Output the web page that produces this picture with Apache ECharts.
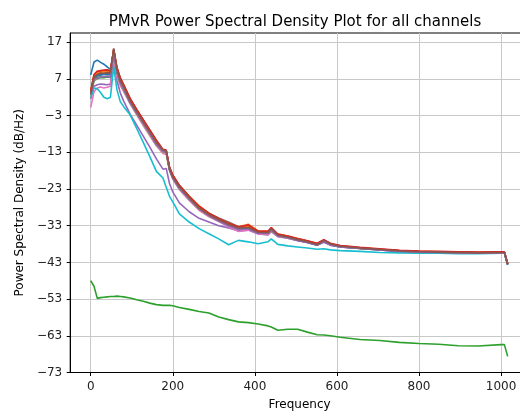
<!DOCTYPE html>
<html>
<head>
<meta charset="utf-8">
<script src="https://cdn.jsdelivr.net/npm/echarts@6/dist/echarts.min.js"></script>
<style>
  html, body { margin: 0; padding: 0; background: #fff; overflow: hidden; }
  #wrap { width: 520px; height: 416px; overflow: hidden; }
  #chart { width: 529px; height: 416px; }
</style>
</head>
<body>
<div id="wrap"><div id="chart"></div></div>
<script>
// frequency bins (Hz)
var freqs = [0, 8, 16, 24, 32, 40, 48, 56, 64, 72,
  80, 96, 112, 128, 144, 160, 176, 184, 192, 200,
  216, 240, 264, 288, 312, 336, 360, 384, 408, 432,
  440, 456, 480, 504, 528, 552, 568, 584, 608, 656,
  704, 752, 800, 848, 896, 944, 1000, 1008, 1016];

var xTicks = [0, 200, 400, 600, 800, 1000];
var yTicks = [17, 7, -3, -13, -23, -33, -43, -53, -63, -73];

// PSD per channel (dB/Hz)
var ch00 = [8.1, 11.6, 12.1, 11.5, 11.0, 10.3, 9.6, 14.5, 9.0, 6.0,
  4.2, 0.5, -2.4, -5.2, -8.0, -10.8, -12.8, -13.0, -17.8, -20.0,
  -22.8, -25.8, -28.6, -30.4, -31.8, -33.0, -34.0, -33.8, -35.0, -35.2,
  -34.2, -35.8, -36.3, -37.0, -37.6, -38.3, -37.3, -38.2, -38.8, -39.2,
  -39.6, -40.0, -40.2, -40.3, -40.4, -40.5, -40.4, -40.4, -43.6];
var ch01 = [3.8, 7.8, 8.8, 9.0, 9.2, 9.4, 9.1, 14.6, 9.8, 7.2,
  5.2, 1.4, -1.5, -4.3, -7.1, -10.0, -12.6, -12.9, -17.2, -19.3,
  -22.0, -25.0, -27.6, -29.6, -31.0, -32.3, -33.3, -32.6, -34.4, -34.5,
  -34.0, -35.3, -35.8, -36.5, -37.2, -38.0, -37.3, -38.0, -38.5, -39.0,
  -39.4, -39.8, -40.0, -40.1, -40.2, -40.3, -40.2, -40.2, -43.3];
var ch02 = [-48.0, -49.5, -52.8, -52.6, -52.5, -52.4, -52.3, -52.3, -52.2, -52.3,
  -52.4, -52.7, -53.2, -53.6, -54.1, -54.5, -54.7, -54.7, -54.7, -54.8,
  -55.3, -55.8, -56.4, -56.8, -57.9, -58.6, -59.2, -59.4, -59.8, -60.3,
  -60.6, -61.5, -61.2, -61.2, -62.0, -62.7, -62.8, -63.0, -63.4, -64.0,
  -64.3, -64.8, -65.1, -65.3, -65.7, -65.8, -65.4, -65.4, -68.6];
var ch03 = [3.5, 8.0, 9.0, 9.3, 9.2, 9.3, 9.2, 14.8, 10.0, 7.2,
  5.4, 1.6, -1.4, -4.2, -7.0, -9.8, -12.3, -12.5, -17.1, -19.3,
  -22.1, -25.1, -27.8, -29.7, -31.1, -32.4, -33.4, -32.8, -34.5, -34.6,
  -33.6, -35.4, -35.9, -36.6, -37.2, -37.9, -36.9, -37.9, -38.5, -39.0,
  -39.4, -39.8, -40.0, -40.1, -40.2, -40.3, -40.2, -40.2, -43.3];
var ch04 = [1.5, 5.0, 5.4, 5.6, 5.5, 5.4, 5.6, 12.0, 6.5, 3.2,
  1.0, -2.6, -5.6, -8.6, -11.6, -14.8, -17.6, -17.4, -21.5, -23.8,
  -26.8, -29.2, -31.0, -32.0, -33.0, -33.6, -34.4, -34.2, -35.2, -35.5,
  -34.6, -36.0, -36.4, -37.0, -37.6, -38.3, -37.5, -38.3, -38.8, -39.2,
  -39.6, -40.0, -40.2, -40.3, -40.4, -40.5, -40.4, -40.4, -43.6];
var ch05 = [2.9, 7.3, 8.0, 8.3, 8.3, 8.5, 8.4, 15.1, 9.4, 6.4,
  4.7, 0.9, -2.0, -4.8, -7.6, -10.4, -12.5, -12.7, -17.5, -19.7,
  -22.5, -25.4, -28.1, -30.0, -31.4, -32.7, -33.7, -33.5, -34.8, -34.8,
  -33.9, -35.6, -36.1, -36.8, -37.4, -38.1, -37.1, -38.0, -38.6, -39.1,
  -39.5, -39.9, -40.1, -40.2, -40.3, -40.4, -40.3, -40.3, -43.5];
var ch06 = [-0.8, 3.5, 4.5, 4.8, 4.5, 4.7, 5.0, 12.5, 7.6, 5.2,
  3.6, 0.2, -2.8, -5.7, -8.5, -11.3, -13.3, -13.6, -18.0, -20.3,
  -23.2, -26.1, -28.8, -30.6, -31.9, -33.3, -34.6, -34.2, -35.3, -35.4,
  -34.5, -35.9, -36.4, -37.0, -37.6, -38.2, -37.4, -38.2, -38.7, -39.1,
  -39.5, -39.9, -40.1, -40.2, -40.3, -40.4, -40.3, -40.3, -43.5];
var ch07 = [2.5, 6.5, 7.0, 7.5, 7.6, 7.8, 7.5, 15.0, 9.2, 6.3,
  4.5, 0.8, -2.1, -4.9, -7.7, -10.6, -12.6, -12.8, -17.6, -19.8,
  -22.5, -25.4, -28.0, -29.6, -30.9, -32.0, -33.3, -33.6, -34.6, -34.8,
  -33.9, -35.6, -36.1, -36.8, -37.4, -38.1, -37.2, -38.1, -38.6, -39.1,
  -39.5, -39.9, -40.1, -40.2, -40.3, -40.4, -40.3, -40.3, -43.5];
var ch08 = [2.0, 6.6, 7.3, 7.6, 7.4, 7.6, 7.8, 14.0, 8.6, 5.8,
  4.0, 0.4, -2.5, -5.3, -8.2, -11.0, -12.9, -13.1, -17.7, -20.0,
  -22.9, -25.7, -28.5, -30.3, -31.6, -32.9, -33.8, -33.7, -35.0, -35.1,
  -34.3, -35.8, -36.3, -36.9, -37.5, -38.2, -37.3, -38.2, -38.7, -39.1,
  -39.5, -39.9, -40.1, -40.2, -40.3, -40.4, -40.3, -40.3, -43.5];
var ch09 = [2.0, 4.5, 4.3, 3.3, 2.0, 1.6, 2.0, 10.3, 4.0, 0.8,
  -0.5, -2.8, -6.5, -10.3, -14.2, -18.2, -20.0, -22.5, -25.0, -26.5,
  -29.8, -32.0, -33.8, -35.2, -36.6, -38.2, -37.0, -37.4, -37.9, -37.4,
  -36.6, -38.1, -38.5, -38.8, -39.1, -39.4, -39.3, -39.6, -39.8, -40.0,
  -40.3, -40.4, -40.5, -40.5, -40.6, -40.6, -40.5, -40.5, -43.7];
var ch10 = [3.0, 7.0, 7.8, 8.0, 8.2, 8.3, 8.1, 14.2, 9.0, 6.2,
  4.4, 0.7, -2.2, -5.0, -7.9, -10.7, -12.7, -12.9, -17.6, -19.9,
  -22.7, -25.6, -28.3, -30.1, -31.5, -32.8, -33.8, -33.7, -34.9, -34.9,
  -34.1, -35.7, -36.2, -36.9, -37.5, -38.2, -37.3, -38.2, -38.7, -39.1,
  -39.5, -39.9, -40.1, -40.2, -40.3, -40.4, -40.3, -40.3, -43.5];
var ch11 = [3.2, 7.6, 8.5, 8.8, 8.9, 9.0, 8.8, 14.9, 9.7, 7.0,
  5.0, 1.2, -1.7, -4.5, -7.3, -10.2, -12.5, -12.7, -17.3, -19.5,
  -22.3, -25.2, -27.9, -29.8, -31.2, -32.5, -33.5, -33.0, -34.6, -34.7,
  -33.9, -35.5, -36.0, -36.7, -37.3, -38.1, -37.1, -38.0, -38.6, -39.1,
  -39.5, -39.9, -40.1, -40.2, -40.3, -40.4, -40.3, -40.3, -43.4];
var ch12 = [2.8, 7.0, 7.3, 7.4, 7.3, 7.5, 7.4, 14.4, 8.8, 6.0,
  4.2, 0.6, -2.3, -5.1, -7.9, -10.8, -12.8, -13.0, -17.7, -20.0,
  -22.8, -25.7, -28.4, -30.2, -31.6, -32.9, -33.9, -33.7, -35.0, -35.0,
  -34.2, -35.7, -36.2, -36.9, -37.5, -38.2, -37.3, -38.2, -38.7, -39.1,
  -39.5, -39.9, -40.1, -40.2, -40.3, -40.4, -40.3, -40.3, -43.5];
var ch13 = [3.6, 8.2, 9.1, 9.2, 9.4, 9.5, 9.1, 15.0, 10.1, 7.3,
  5.5, 1.7, -1.3, -4.1, -6.9, -9.7, -12.2, -12.4, -17.0, -19.2,
  -22.0, -25.0, -27.7, -29.6, -31.0, -32.3, -33.3, -32.9, -34.5, -34.5,
  -33.5, -35.3, -35.8, -36.5, -37.1, -37.8, -36.8, -37.8, -38.4, -38.9,
  -39.3, -39.7, -39.9, -40.0, -40.1, -40.2, -40.1, -40.1, -43.3];
var ch14 = [2.6, 6.8, 7.2, 7.5, 7.6, 7.6, 7.5, 14.0, 8.8, 6.0,
  4.2, 0.5, -2.4, -5.2, -8.0, -10.9, -12.8, -13.0, -17.7, -20.0,
  -22.8, -25.7, -28.4, -30.3, -31.7, -33.0, -34.0, -33.9, -35.1, -35.1,
  -34.3, -35.8, -36.3, -37.0, -37.6, -38.3, -37.4, -38.3, -38.8, -39.2,
  -39.6, -40.0, -40.2, -40.3, -40.4, -40.5, -40.4, -40.4, -43.6];
var ch15 = [3.0, 7.5, 8.2, 8.6, 8.5, 8.7, 8.6, 15.3, 9.5, 6.5,
  4.8, 1.0, -1.9, -4.7, -7.5, -10.3, -12.4, -12.6, -17.4, -19.7,
  -22.4, -25.4, -28.2, -30.0, -31.4, -32.7, -33.6, -33.5, -34.8, -34.9,
  -33.8, -35.6, -36.1, -36.8, -37.4, -38.2, -37.0, -38.0, -38.6, -39.1,
  -39.5, -39.9, -40.1, -40.2, -40.3, -40.4, -40.3, -40.3, -43.5];

var channels = [ch00, ch01, ch02, ch03, ch04, ch05, ch06, ch07,
  ch08, ch09, ch10, ch11, ch12, ch13, ch14, ch15];

// matplotlib tab10
var palette = ['#1f77b4', '#ff7f0e', '#2ca02c', '#d62728', '#9467bd',
  '#8c564b', '#e377c2', '#7f7f7f', '#bcbd22', '#17becf'];

var font = 'DejaVu Sans';

var series = channels.map(function (vals, i) {
  return {
    name: 'ch' + i,
    type: 'line',
    showSymbol: false,
    silent: true,
    data: freqs.map(function (f, k) { return [f, vals[k]]; }),
    lineStyle: { width: 1.6, color: palette[i % 10] },
    itemStyle: { color: palette[i % 10] }
  };
});

var option = {
  animation: false,
  backgroundColor: '#fff',
  title: {
    text: 'PMvR Power Spectral Density Plot for all channels',
    left: 290,
    textAlign: 'center',
    top: 10,
    textStyle: { fontFamily: font, fontSize: 15, fontWeight: 'normal', color: '#000' }
  },
  grid: {
    left: 70.2, right: 0, top: 33, bottom: 42,
    show: true, borderColor: '#000', borderWidth: 1
  },
  xAxis: {
    type: 'value',
    min: -50, max: 1068,
    name: 'Frequency',
    nameLocation: 'middle',
    nameGap: 26.5,
    nameTextStyle: { fontFamily: font, fontSize: 12, color: '#000' },
    axisLine: { show: true, onZero: false, lineStyle: { color: '#000', width: 1 } },
    axisTick: { show: true, length: 3.5, customValues: xTicks, lineStyle: { color: '#000' } },
    axisLabel: {
      customValues: xTicks, margin: 8, fontFamily: font, fontSize: 12, color: '#222',
      formatter: function (v) { return String(v); }
    },
    splitLine: { show: true, lineStyle: { color: '#c8c8c8', width: 1 } }
  },
  yAxis: {
    type: 'value',
    min: -73, max: 19.5,
    name: 'Power Spectral Density (dB/Hz)',
    nameLocation: 'middle',
    nameGap: 43,
    nameTextStyle: { fontFamily: font, fontSize: 12, color: '#000' },
    axisLine: { show: true, onZero: false, lineStyle: { color: '#000', width: 1 } },
    axisTick: { show: true, length: 3.5, customValues: yTicks, lineStyle: { color: '#000' } },
    axisLabel: {
      customValues: yTicks, margin: 8, fontFamily: font, fontSize: 12, color: '#222',
      formatter: function (v) { return String(v).replace('-', '\u2212'); }
    },
    splitLine: { show: true, lineStyle: { color: '#c8c8c8', width: 1 } }
  },
  series: series
};

var myChart = echarts.init(document.getElementById('chart'));
myChart.setOption(option);
</script>
</body>
</html>
